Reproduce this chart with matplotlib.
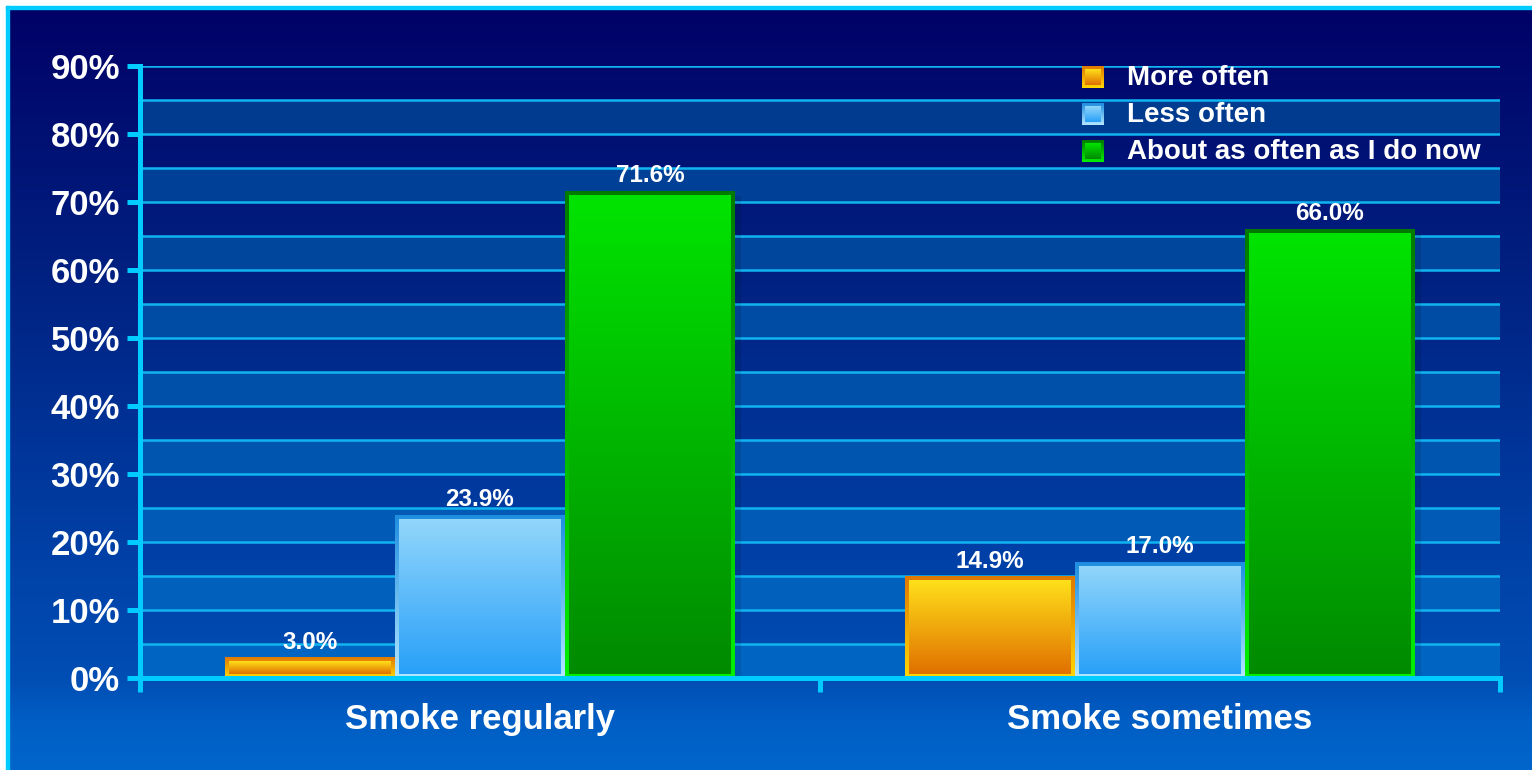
import numpy as np
import matplotlib
matplotlib.use("Agg")
import matplotlib.pyplot as plt
from matplotlib.colors import to_rgb
from matplotlib.patches import Rectangle

# ---------------- data ----------------
categories = ["Smoke regularly", "Smoke sometimes"]
series_names = ["More often", "Less often", "About as often as I do now"]
more_often = [3.0, 14.9]
less_often = [23.9, 17.0]
about_same = [71.6, 66.0]
y_ticks = [0, 10, 20, 30, 40, 50, 60, 70, 80, 90]
y_tick_labels = ["0%", "10%", "20%", "30%", "40%", "50%", "60%", "70%", "80%", "90%"]

series_values = [more_often, less_often, about_same]

# styles: (fill top, fill bottom, border top, border bottom)
styles = [
    ("#ffe01a", "#e07000", "#e07800", "#ffd800"),
    ("#92d6fb", "#28a0f8", "#1e8ee0", "#b4e6ff"),
    ("#00e400", "#008a00", "#007a00", "#00f000"),
]

plt.rcParams['font.family'] = ['Liberation Sans', 'DejaVu Sans']
plt.rcParams['font.weight'] = 'bold'

W, H = 1532, 770
fig = plt.figure(figsize=(W / 100, H / 100), dpi=100)


def grad_img(top, bottom, n=256):
    t = np.linspace(0, 1, n)[:, None]
    a = np.array(to_rgb(top))[None, :]
    b = np.array(to_rgb(bottom))[None, :]
    return (a * (1 - t) + b * t)[:, None, :]


def grad_box(axx, x0, x1, ylow, yhigh, top, bottom, z):
    # "yhigh" is the visually upper edge
    axx.imshow(grad_img(top, bottom), extent=[x0, x1, ylow, yhigh],
               aspect='auto', interpolation='bilinear', zorder=z, origin='upper')


# ---------------- background ----------------
bg = fig.add_axes([0, 0, 1, 1], zorder=0)
bg.axis('off')
stops_y = [0, 250, 550, 680, 720, 770]
stops_c = ["#000066", "#001e7e", "#0040a6", "#004eb4", "#005ec4", "#0066cc"]
ys = np.arange(H)
cols = np.array([to_rgb(c) for c in stops_c])
bgarr = np.stack([np.interp(ys, stops_y, cols[:, k]) for k in range(3)], axis=1)[:, None, :]
bg.imshow(bgarr, extent=[0, W, H, 0], aspect='auto', interpolation='bilinear', zorder=0)
bg.add_patch(Rectangle((0, 0), W, 6, color='white', zorder=1))
bg.add_patch(Rectangle((0, 0), 6, H, color='white', zorder=1))
bg.add_patch(Rectangle((6, 6), W - 6, 3, color='#00ccff', zorder=2))
bg.add_patch(Rectangle((6, 6), 3, H - 6, color='#00ccff', zorder=2))
bg.set_xlim(0, W)
bg.set_ylim(H, 0)

# ---------------- main axes ----------------
ax_l, ax_r, ax_t, ax_b = 140, 1500, 66, 678
ax = fig.add_axes([ax_l / W, (H - ax_b) / H, (ax_r - ax_l) / W, (ax_b - ax_t) / H], zorder=1)
ax.patch.set_alpha(0)
xlo, xhi, ylo, yhi = -0.5, 1.5, 0, 90
dxp = (xhi - xlo) / (ax_r - ax_l)
dyp = (yhi - ylo) / (ax_b - ax_t)

# alternating bands
c_top = np.array(to_rgb("#003a8e"))
c_bot = np.array(to_rgb("#0066c4"))
for k in range(0, 90, 10):
    f = (k + 2.5) / 85.0
    c = c_bot * (1 - f) + c_top * f
    ax.axhspan(k, k + 5, color=c, zorder=0.2, lw=0)

ax.set_yticks(y_ticks, labels=y_tick_labels)
ax.set_yticks(np.arange(0, 91, 5), minor=True)
ax.set_axisbelow(True)
ax.grid(True, axis='y', which='both', color='#10b4f0', lw=1.8)

x = np.arange(len(categories))
width = 0.25
offsets = [-0.25, 0.0, 0.25]
for s, vals in enumerate(series_values):
    ft, fb, bt, bb = styles[s]
    bars = ax.bar(x + offsets[s], vals, width, color=fb, lw=0, zorder=2)
    for b, v in zip(bars, vals):
        x0 = b.get_x()
        x1 = x0 + b.get_width()
        h = b.get_height()
        ax.add_patch(Rectangle((x1, 0), 6 * dxp, h - 5 * dyp, facecolor='black',
                               alpha=0.1, lw=0, zorder=1.9))
        grad_box(ax, x0, x1, 0, h, bt, bb, 3)
        grad_box(ax, x0 + 4 * dxp, x1 - 4 * dxp, 4 * dyp, h - 4 * dyp, ft, fb, 3.1)
        ax.annotate(f"{v:.1f}%", (b.get_x() + b.get_width() / 2, h),
                    xytext=(0, 6.5), textcoords='offset points', ha='center',
                    va='baseline', color='white', fontsize=17.5, fontweight='bold',
                    zorder=6)

ax.set_xlim(xlo, xhi)
ax.set_ylim(ylo, yhi)

for sp in ['top', 'right']:
    ax.spines[sp].set_visible(False)
for sp in ['left', 'bottom']:
    ax.spines[sp].set_color('#00ccff')
    ax.spines[sp].set_linewidth(3.6)
    ax.spines[sp].set_zorder(5)

ax.set_xticks(x, labels=categories)
ax.set_xticks([-0.5, 0.5, 1.5], minor=True)
ax.tick_params(axis='x', which='major', length=0, pad=18, labelsize=25,
               labelcolor='white')
ax.tick_params(axis='x', which='minor', length=10, width=3.6, color='#00ccff',
               direction='out')
ax.tick_params(axis='y', which='major', length=9.4, width=3.6, color='#00ccff',
               labelsize=25, labelcolor='white', pad=5)
ax.tick_params(axis='y', which='minor', length=0)
for lab in ax.get_xticklabels() + ax.get_yticklabels():
    lab.set_fontweight('bold')

# ---------------- legend overlay (pixel coords) ----------------
lg = fig.add_axes([0, 0, 1, 1], zorder=3)
lg.patch.set_alpha(0)
lg.axis('off')
for i, name in enumerate(series_names):
    ft, fb, bt, bb = styles[i]
    y0 = 66 + 37 * i
    grad_box(lg, 1082, 1104, y0 + 22, y0, bt, bb, 3)
    grad_box(lg, 1085, 1101, y0 + 19, y0 + 3, ft, fb, 4)
    lg.text(1127, y0 + 12, name, color='white', fontsize=20, fontweight='bold',
            va='center', ha='left', zorder=5)
lg.set_xlim(0, W)
lg.set_ylim(H, 0)

fig.savefig("out.png", dpi=100)
